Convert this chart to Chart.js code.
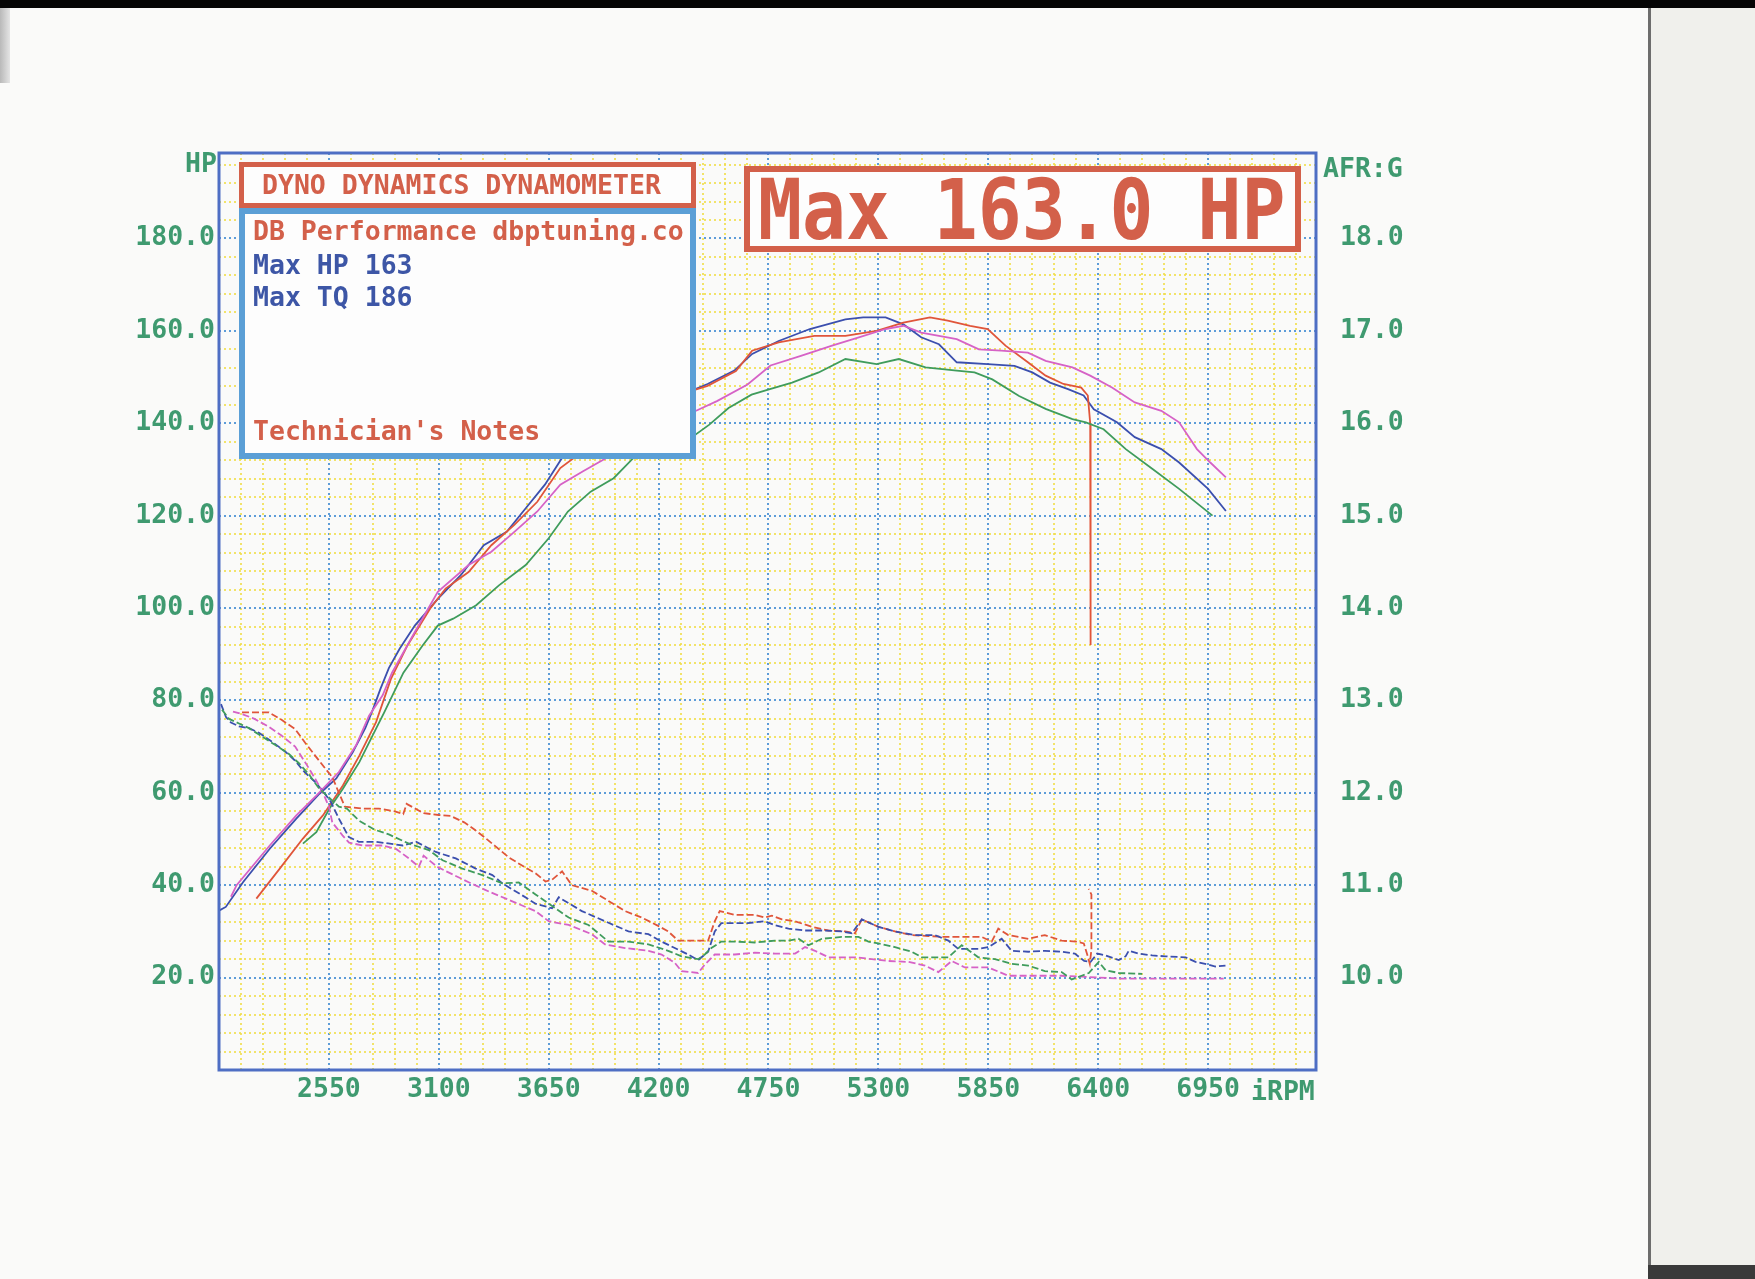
<!DOCTYPE html>
<html lang="en">
  <head>
    <meta charset="UTF-8" />
    <title>Dyno Dynamics - Max 163.0 HP</title>
    <style>
      html, body { margin: 0; padding: 0; }
      body { width: 1755px; height: 1279px; background: #fafaf9; overflow: hidden; position: relative; }
      #dyno { position: absolute; left: 0; top: 0; }
      .topbar { position: absolute; left: 0; top: 0; width: 1755px; height: 8px; background: #050505; }
      .leftstrip { position: absolute; left: 0; top: 8px; width: 10px; height: 75px; background: linear-gradient(90deg, #b9b9b9, #e4e4e4); }
      .sheet { position: absolute; left: 1648px; top: 8px; width: 107px; height: 1257px; background: #f0f0ec; border-left: 3px solid #6d6d6d; }
      .sheetfoot { position: absolute; left: 1648px; top: 1265px; width: 107px; height: 14px; background: #3a3a3a; }
      .txt { position: absolute; font-family: "DejaVu Sans Mono", monospace; font-weight: bold; font-size: 26.5px; line-height: 26.5px; white-space: pre; }
      .green { color: #3f9a70; }
      .red { color: #d3604a; }
      .blue { color: #3d56a6; }
      .box { position: absolute; box-sizing: border-box; background: #fdfdfd; }
      .big { font-size: 73px; line-height: 73px; transform: scaleY(1.15); transform-origin: 0 35px; }
    </style>
  </head>
  <body>
    <canvas id="dyno" width="1755" height="1279"></canvas>

    <div class="topbar"></div>
    <div class="leftstrip"></div>
    <div class="sheet"></div>
    <div class="sheetfoot"></div>

    <div class="txt green" style="left:185px; top:150px;">HP</div>
    <div class="txt green" style="left:1323px; top:155px;">AFR:G</div>
    <div class="txt green" style="left:1251px; top:1078px;">iRPM</div>

    <div class="box" style="left:239px; top:162px; width:457px; height:46px; border:5px solid #d3604a;"></div>
    <div class="txt red" style="left:262px; top:172px;">DYNO DYNAMICS DYNAMOMETER</div>

    <div class="box" style="left:239px; top:208px; width:457px; height:251px; border:6px solid #5b9fd6;"></div>
    <div class="txt red" style="left:253px; top:218px;">DB Performance dbptuning.co</div>
    <div class="txt blue" style="left:253px; top:252px;">Max HP 163</div>
    <div class="txt blue" style="left:253px; top:284px;">Max TQ 186</div>
    <div class="txt red" style="left:253px; top:418px;">Technician's Notes</div>

    <div class="box" style="left:744px; top:166px; width:557px; height:86px; border:6px solid #d3604a;"></div>
    <div class="txt red big" style="left:758px; top:173px;">Max 163.0 HP</div>

    <script src="https://cdn.jsdelivr.net/npm/chart.js"></script>
    <script>
      // axis labels
      const rpmLabels = [2550, 3100, 3650, 4200, 4750, 5300, 5850, 6400, 6950];
      const hpLabels = [20, 40, 60, 80, 100, 120, 140, 160, 180];
      const afrLabels = [10, 11, 12, 13, 14, 15, 16, 17, 18];

      // power runs (rpm / hp)
      const blueHpRpm = [2000, 2034, 2121, 2254, 2387, 2503, 2587, 2670, 2732, 2770, 2808, 2850, 2904, 2980, 3095, 3210, 3325, 3440, 3535, 3631, 3727, 3784, 3850, 3950, 4050, 4122, 4222, 4345, 4445, 4579, 4668, 4801, 4957, 5135, 5224, 5336, 5425, 5514, 5603, 5692, 5847, 5981, 6070, 6159, 6249, 6327, 6378, 6494, 6583, 6716, 6805, 6950, 7039];
      const blueHp = [34.5, 35.3, 40.7, 47.9, 54.4, 59.8, 63.1, 68.8, 74.0, 78.0, 82.5, 87.0, 91.2, 96.2, 102.0, 107.1, 113.6, 116.5, 121.6, 126.7, 133.2, 134.6, 137.0, 139.5, 141.5, 142.7, 143.5, 146.7, 148.5, 151.4, 155.0, 157.8, 160.4, 162.5, 162.9, 162.9, 161.4, 158.6, 157.1, 153.2, 152.8, 152.4, 151.0, 148.8, 147.4, 146.0, 143.0, 140.2, 137.0, 134.4, 131.5, 125.8, 121.0];

      const redHpRpm = [2187, 2304, 2420, 2520, 2620, 2703, 2786, 2860, 2943, 3057, 3134, 3249, 3363, 3478, 3593, 3708, 3841, 3950, 4100, 4250, 4445, 4587, 4668, 4801, 4979, 5135, 5291, 5425, 5558, 5647, 5759, 5847, 5936, 6048, 6137, 6226, 6315, 6348, 6360, 6362];
      const redHp = [37.1, 43.6, 50.1, 55.1, 61.6, 68.1, 75.3, 84.6, 91.9, 99.9, 104.2, 107.8, 113.6, 118.0, 123.0, 130.3, 134.6, 138.0, 142.0, 145.5, 148.1, 151.3, 155.7, 157.5, 158.9, 158.9, 160.0, 161.8, 162.9, 162.2, 161.1, 160.4, 156.8, 153.2, 150.3, 148.5, 147.7, 146.0, 140.0, 92.0];

      const magHpRpm = [2060, 2088, 2254, 2387, 2487, 2600, 2686, 2751, 2819, 2866, 2980, 3095, 3249, 3363, 3478, 3593, 3708, 3822, 4013, 4150, 4290, 4377, 4492, 4645, 4760, 4912, 5068, 5202, 5336, 5425, 5514, 5692, 5803, 5914, 6048, 6137, 6271, 6360, 6471, 6583, 6716, 6805, 6894, 6961, 7039];
      const magHp = [37.5, 40.0, 48.6, 55.1, 59.4, 64.5, 70.3, 76.7, 81.1, 86.0, 94.8, 103.5, 109.3, 112.2, 116.5, 120.9, 126.7, 129.6, 134.3, 138.5, 142.0, 142.5, 144.8, 148.4, 152.5, 154.6, 156.8, 158.6, 160.4, 161.1, 159.6, 158.2, 156.0, 155.7, 155.3, 153.5, 152.1, 150.3, 147.7, 144.5, 142.7, 140.2, 134.4, 131.5, 128.3];

      const greenHpRpm = [2420, 2487, 2553, 2620, 2703, 2786, 2827, 2923, 3019, 3095, 3172, 3287, 3401, 3535, 3650, 3746, 3860, 3975, 4090, 4200, 4339, 4454, 4550, 4665, 4757, 4868, 5001, 5135, 5291, 5402, 5536, 5692, 5781, 5870, 6004, 6137, 6271, 6338, 6427, 6538, 6672, 6805, 6972];
      const greenHp = [49.0, 51.5, 56.6, 60.9, 66.7, 73.9, 77.4, 86.0, 91.9, 96.2, 97.7, 100.6, 104.9, 109.3, 115.1, 120.9, 125.2, 128.1, 133.2, 135.0, 136.1, 139.7, 143.3, 146.2, 147.4, 148.8, 151.0, 153.9, 152.8, 153.9, 152.1, 151.4, 151.0, 149.5, 145.9, 143.1, 140.9, 140.2, 138.7, 134.4, 130.1, 125.8, 120.0];

      // air fuel ratio (rpm / afr), right axis
      const redAfrRpm = [2115, 2250, 2313, 2381, 2432, 2482, 2533, 2567, 2600, 2630, 2720, 2800, 2880, 2922, 2939, 3024, 3100, 3159, 3227, 3280, 3328, 3384, 3451, 3534, 3584, 3634, 3667, 3717, 3766, 3866, 3949, 4032, 4115, 4198, 4248, 4298, 4448, 4481, 4506, 4581, 4681, 4731, 4767, 4817, 4883, 4967, 5050, 5133, 5183, 5217, 5300, 5383, 5467, 5550, 5633, 5717, 5817, 5867, 5900, 5950, 6050, 6133, 6217, 6290, 6328, 6345, 6358, 6366, 6366, 6352];
      const redAfr = [12.87, 12.87, 12.79, 12.69, 12.54, 12.40, 12.26, 12.17, 12.00, 11.85, 11.83, 11.83, 11.80, 11.77, 11.88, 11.78, 11.76, 11.75, 11.68, 11.60, 11.52, 11.42, 11.30, 11.19, 11.13, 11.04, 11.06, 11.15, 11.00, 10.94, 10.83, 10.72, 10.65, 10.56, 10.50, 10.40, 10.40, 10.61, 10.72, 10.68, 10.68, 10.65, 10.67, 10.63, 10.61, 10.55, 10.51, 10.50, 10.48, 10.63, 10.55, 10.50, 10.46, 10.45, 10.44, 10.44, 10.44, 10.39, 10.53, 10.46, 10.42, 10.46, 10.40, 10.39, 10.37, 10.25, 10.15, 10.30, 10.90, 10.96];

      const blueAfrRpm = [2010, 2035, 2060, 2100, 2150, 2200, 2260, 2330, 2380, 2430, 2480, 2520, 2560, 2600, 2650, 2700, 2786, 2919, 2986, 3085, 3185, 3285, 3368, 3418, 3518, 3584, 3667, 3700, 3816, 3932, 4049, 4149, 4215, 4281, 4348, 4398, 4448, 4481, 4514, 4647, 4731, 4780, 4850, 4933, 5017, 5117, 5167, 5217, 5300, 5383, 5483, 5583, 5650, 5700, 5800, 5850, 5917, 5967, 6050, 6133, 6217, 6283, 6330, 6362, 6395, 6437, 6503, 6537, 6553, 6603, 6670, 6737, 6837, 6887, 6953, 6987, 7037];
      const blueAfr = [12.96, 12.82, 12.76, 12.72, 12.70, 12.65, 12.56, 12.45, 12.35, 12.22, 12.12, 12.02, 11.90, 11.72, 11.52, 11.47, 11.47, 11.43, 11.47, 11.36, 11.29, 11.18, 11.11, 11.02, 10.89, 10.80, 10.75, 10.87, 10.72, 10.61, 10.50, 10.47, 10.39, 10.32, 10.25, 10.19, 10.28, 10.50, 10.59, 10.59, 10.61, 10.57, 10.53, 10.51, 10.51, 10.50, 10.48, 10.63, 10.55, 10.50, 10.46, 10.46, 10.40, 10.31, 10.31, 10.33, 10.42, 10.29, 10.28, 10.29, 10.28, 10.26, 10.18, 10.17, 10.26, 10.24, 10.19, 10.23, 10.29, 10.26, 10.24, 10.23, 10.22, 10.17, 10.14, 10.12, 10.13];

      const magAfrRpm = [2070, 2119, 2178, 2245, 2313, 2381, 2440, 2482, 2520, 2550, 2567, 2618, 2651, 2719, 2821, 2888, 2956, 3000, 3024, 3091, 3185, 3252, 3352, 3430, 3517, 3584, 3650, 3750, 3866, 3932, 4032, 4149, 4215, 4281, 4315, 4398, 4431, 4481, 4581, 4681, 4783, 4883, 4933, 4983, 5050, 5183, 5267, 5350, 5450, 5533, 5600, 5667, 5733, 5850, 5950, 6050, 6217, 6317, 6403, 6503, 6670, 6837, 7028];
      const magAfr = [12.88, 12.85, 12.80, 12.72, 12.62, 12.50, 12.30, 12.15, 12.00, 11.85, 11.68, 11.54, 11.46, 11.43, 11.43, 11.39, 11.28, 11.20, 11.32, 11.20, 11.10, 11.03, 10.93, 10.86, 10.78, 10.72, 10.61, 10.57, 10.47, 10.36, 10.32, 10.29, 10.25, 10.16, 10.07, 10.05, 10.14, 10.25, 10.25, 10.27, 10.26, 10.26, 10.33, 10.29, 10.22, 10.22, 10.20, 10.18, 10.17, 10.13, 10.06, 10.18, 10.11, 10.11, 10.02, 10.02, 10.02, 10.01, 10.00, 9.99, 9.99, 9.99, 9.99];

      const greenAfrRpm = [2015, 2050, 2100, 2150, 2200, 2280, 2350, 2400, 2450, 2500, 2550, 2600, 2640, 2700, 2780, 2850, 2950, 3050, 3119, 3218, 3318, 3418, 3500, 3584, 3651, 3750, 3849, 3949, 4049, 4149, 4248, 4315, 4398, 4431, 4464, 4514, 4581, 4681, 4783, 4850, 4900, 4950, 5017, 5117, 5200, 5250, 5300, 5383, 5467, 5517, 5650, 5717, 5800, 5883, 5967, 6050, 6133, 6217, 6267, 6317, 6353, 6403, 6437, 6503, 6620];
      const greenAfr = [12.90, 12.80, 12.75, 12.70, 12.63, 12.52, 12.42, 12.32, 12.20, 12.05, 11.95, 11.85, 11.83, 11.70, 11.60, 11.55, 11.45, 11.38, 11.27, 11.18, 11.11, 11.02, 11.03, 10.90, 10.80, 10.65, 10.57, 10.39, 10.39, 10.36, 10.29, 10.23, 10.20, 10.25, 10.32, 10.39, 10.39, 10.38, 10.40, 10.40, 10.42, 10.35, 10.42, 10.44, 10.44, 10.39, 10.37, 10.33, 10.28, 10.22, 10.22, 10.35, 10.22, 10.20, 10.15, 10.13, 10.07, 10.06, 9.98, 10.02, 10.05, 10.17, 10.08, 10.05, 10.04];

      const BLUE = '#3b4fae';
      const RED = '#e0553a';
      const MAG = '#d662c6';
      const GREEN = '#3f9c5c';
      const LABEL = '#3f9a70';
      const MAJOR = '#5d9cd8';
      const MINOR = 'rgba(240, 222, 80, 0.85)';
      const tickFont = { family: 'DejaVu Sans Mono', size: 26.5, weight: 'bold' };

      function pts(xs, ys) {
        return xs.map((x, i) => ({ x: x, y: ys[i] }));
      }

      function line(xs, ys, color, axis, dashed) {
        return {
          data: pts(xs, ys),
          yAxisID: axis,
          borderColor: color,
          borderWidth: 1.8,
          borderDash: dashed ? [7, 3] : [],
          pointRadius: 0,
          tension: 0,
          fill: false
        };
      }

      function steps(from, to, step) {
        const out = [];
        for (let v = from; v <= to; v += step) out.push({ value: v });
        return out;
      }

      // blue frame round the plot area
      const frame = {
        id: 'frame',
        afterDatasetsDraw(chart) {
          const a = chart.chartArea;
          const ctx = chart.ctx;
          ctx.save();
          ctx.strokeStyle = '#4e6ec4';
          ctx.lineWidth = 3;
          ctx.strokeRect(a.left, a.top, a.right - a.left, a.bottom - a.top);
          ctx.restore();
        }
      };

      new Chart(document.getElementById('dyno'), {
        type: 'line',
        data: {
          datasets: [
            line(greenAfrRpm, greenAfr, GREEN, 'y2', true),
            line(magAfrRpm, magAfr, MAG, 'y2', true),
            line(blueAfrRpm, blueAfr, BLUE, 'y2', true),
            line(redAfrRpm, redAfr, RED, 'y2', true),
            line(greenHpRpm, greenHp, GREEN, 'y', false),
            line(magHpRpm, magHp, MAG, 'y', false),
            line(redHpRpm, redHp, RED, 'y', false),
            line(blueHpRpm, blueHp, BLUE, 'y', false)
          ]
        },
        options: {
          responsive: false,
          animation: false,
          layout: { padding: { top: 153, left: 0, right: 0, bottom: 0 } },
          plugins: { legend: { display: false }, tooltip: { enabled: false } },
          scales: {
            x: {
              type: 'linear',
              min: 2000,
              max: 7490,
              afterBuildTicks: s => { s.ticks = steps(2000, 7450, 110); },
              afterFit: s => { s.height = 209; },
              ticks: {
                autoSkip: false,
                maxRotation: 0,
                padding: 4,
                color: LABEL,
                font: tickFont,
                callback: v => rpmLabels.includes(v) ? String(v) : ''
              },
              grid: {
                drawTicks: false,
                lineWidth: 2,
                color: c => (c.tick && rpmLabels.includes(c.tick.value)) ? MAJOR : MINOR
              },
              border: { display: false, dash: [2, 3] }
            },
            y: {
              position: 'left',
              min: 0,
              max: 198.5,
              afterBuildTicks: s => { s.ticks = steps(0, 196, 4); },
              afterFit: s => { s.width = 219; },
              ticks: {
                autoSkip: false,
                padding: 4,
                color: LABEL,
                font: tickFont,
                callback: v => hpLabels.includes(v) ? v.toFixed(1) : ''
              },
              grid: {
                drawTicks: false,
                lineWidth: 2,
                color: c => (c.tick && hpLabels.includes(c.tick.value)) ? MAJOR : MINOR
              },
              border: { display: false, dash: [2, 3] }
            },
            y2: {
              position: 'right',
              min: 9,
              max: 18.925,
              afterBuildTicks: s => { s.ticks = afrLabels.map(v => ({ value: v })); },
              afterFit: s => { s.width = 439; },
              ticks: {
                autoSkip: false,
                padding: 24,
                color: LABEL,
                font: tickFont,
                callback: v => v.toFixed(1)
              },
              grid: { display: false, drawTicks: false },
              border: { display: false }
            }
          }
        },
        plugins: [frame]
      });
    </script>
  </body>
</html>
